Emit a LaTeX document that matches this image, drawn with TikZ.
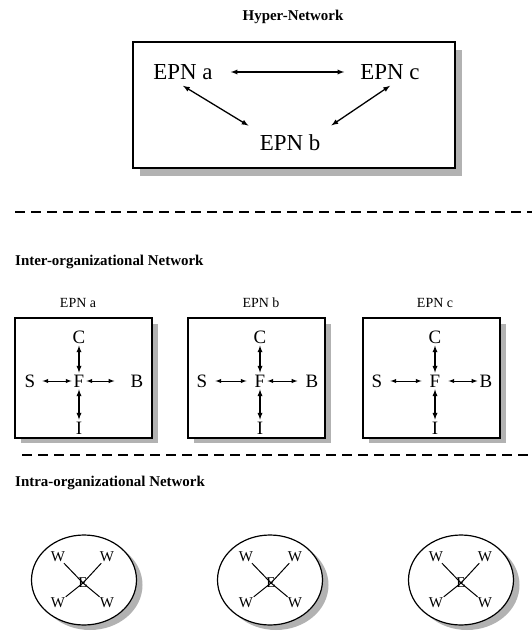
\documentclass[tikz,border=0pt]{standalone}
\usepackage{fontspec}
\setmainfont{Liberation Serif}
\usetikzlibrary{arrows,shapes}

\tikzset{
box/.style={draw,line width=1.2pt,fill=white},
shade/.style={fill=gray!60},
title/.style={font=\bfseries\fontsize{15}{17}\selectfont},
big/.style={font=\fontsize{23}{25}\selectfont,inner sep=6bp},
small/.style={font=\fontsize{14}{16}\selectfont},
let/.style={font=\fontsize{19}{21}\selectfont,inner sep=2bp},
wk/.style={font=\fontsize{15}{17}\selectfont,inner sep=1bp},
dbl/.style={latex-latex,line width=1.3pt},
thin dbl/.style={latex-latex,line width=1pt},
sep/.style={dash pattern=on 10bp off 6bp,line width=1.1pt}
}

\begin{document}
\begin{tikzpicture}[x=1bp,y=-1bp]
\useasboundingbox (0,0) rectangle (532,633);

% hyper-network
\node (T1) at (293,17) [title] {Hyper-Network};
\fill[shade] (140,50) rectangle (462,176);
\draw[box] (133,42) rectangle (455,168);
\node (Ea) at (183,72) [big] {EPN a};
\node (Ec) at (390,72) [big] {EPN c};
\node (Eb) at (290,143) [big] {EPN b};
\draw [dbl,shorten <=12bp,shorten >=10bp] (Ea) -- (Ec);
\draw [dbl,shorten >=6bp] (Ea.south) -- (Eb.north west);
\draw [dbl,shorten >=6bp] (Ec.south) -- (Eb.north east);

\draw[sep] (15,212) -- (532,212);

% inter-organizational network
\node (T2) at (15,262) [title,anchor=west,inner sep=0pt] {Inter-organizational Network};

\node (La) at (78,303) [small] {EPN a};
\fill[shade] (21,324) rectangle (158,443);
\draw[box] (15,318) rectangle (152,438);
\node (Ca) at (79,337) [let] {C};
\node (Fa) at (79,381) [let] {F};
\node (Ia) at (79,428) [let] {I};
\node (Sa) at (30,381) [let] {S};
\node (Ba) at (137,381) [let] {B};
\draw [dbl] (Ca) -- (Fa);
\draw [dbl] (Fa) -- (Ia);
\draw [thin dbl,shorten <=5bp] (Sa) -- (Fa);
\draw [thin dbl,shorten >=14bp] (Fa) -- (Ba);

\node (Lb) at (261,303) [small] {EPN b};
\fill[shade] (194,324) rectangle (331,443);
\draw[box] (188,318) rectangle (325,438);
\node (Cb) at (260,337) [let] {C};
\node (Fb) at (260,381) [let] {F};
\node (Ib) at (260,428) [let] {I};
\node (Sb) at (202,381) [let] {S};
\node (Bb) at (312,381) [let] {B};
\draw [dbl] (Cb) -- (Fb);
\draw [dbl] (Fb) -- (Ib);
\draw [thin dbl,shorten <=6bp,shorten >=6bp] (Sb) -- (Fb);
\draw [thin dbl,shorten >=6bp] (Fb) -- (Bb);

\node (Lc) at (435,303) [small] {EPN c};
\fill[shade] (369,324) rectangle (506,443);
\draw[box] (363,318) rectangle (500,438);
\node (Cc) at (435,337) [let] {C};
\node (Fc) at (435,381) [let] {F};
\node (Ic) at (435,428) [let] {I};
\node (Sc) at (377,381) [let] {S};
\node (Bc) at (486,381) [let] {B};
\draw [dbl] (Cc) -- (Fc);
\draw [dbl] (Fc) -- (Ic);
\draw [thin dbl,shorten <=6bp,shorten >=6bp] (Sc) -- (Fc);
\draw [thin dbl,shorten <=6bp] (Fc) -- (Bc);

\draw[sep] (22,455) -- (532,455);

% intra-organizational network
\node (T3) at (15,483) [title,anchor=west,inner sep=0pt] {Intra-organizational Network};

\fill[shade] (90,585) ellipse (52.5bp and 45bp);
\draw[box] (84,580) ellipse (52.5bp and 45bp);
\node (E1) at (83,583) [wk] {E};
\node (W1a) at (58,557) [wk] {W};
\node (W1b) at (107,557) [wk] {W};
\node (W1c) at (58,603) [wk] {W};
\node (W1d) at (107,603) [wk] {W};
\foreach \w in {W1a,W1b,W1c,W1d} \draw[line width=1pt] (\w) -- (E1.center);

\fill[shade] (276,585) ellipse (52.5bp and 45bp);
\draw[box] (270,580) ellipse (52.5bp and 45bp);
\node (E2) at (271,583) [wk] {E};
\node (W2a) at (246,557) [wk] {W};
\node (W2b) at (295,557) [wk] {W};
\node (W2c) at (246,603) [wk] {W};
\node (W2d) at (295,603) [wk] {W};
\foreach \w in {W2a,W2b,W2c,W2d} \draw[line width=1pt] (\w) -- (E2.center);

\fill[shade] (467,585) ellipse (52.5bp and 45bp);
\draw[box] (461,580) ellipse (52.5bp and 45bp);
\node (E3) at (461,583) [wk] {E};
\node (W3a) at (436,557) [wk] {W};
\node (W3b) at (485,557) [wk] {W};
\node (W3c) at (436,603) [wk] {W};
\node (W3d) at (485,603) [wk] {W};
\foreach \w in {W3a,W3b,W3c,W3d} \draw[line width=1pt] (\w) -- (E3.center);
\end{tikzpicture}
\end{document}
